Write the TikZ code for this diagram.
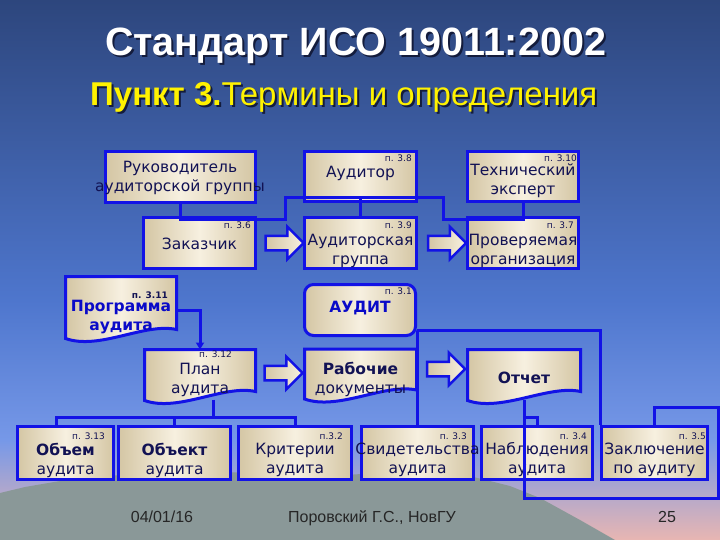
\documentclass[tikz,border=0pt]{standalone}
\usepackage{fontspec}
\setmainfont{Liberation Sans}
\newfontfamily\dvs{DejaVu Sans}
\usetikzlibrary{arrows.meta,shapes.arrows}

\definecolor{lnblue}{RGB}{18,18,230}
\definecolor{navy}{RGB}{18,18,84}
\definecolor{progblue}{RGB}{10,10,200}
\definecolor{beigeD}{RGB}{212,198,164}
\definecolor{beigeL}{RGB}{247,240,224}
\definecolor{bgA}{RGB}{45,70,125}
\definecolor{bgB}{RGB}{78,118,205}
\definecolor{bgC}{RGB}{118,152,232}
\definecolor{bgD}{RGB}{232,182,178}
\definecolor{mount}{RGB}{138,152,152}
\definecolor{shadow}{RGB}{20,28,60}

% document shape (wavy bottom) round an empty frame node
\newcommand{\docpath}[1]{%
  \path[docln] (#1.north west) -- (#1.north east) -- ([yshift=14pt]#1.south east)
    .. controls ([shift={(-32pt,21pt)}]#1.south east) and ([shift={(34pt,-7pt)}]#1.south west)
    .. ([yshift=5pt]#1.south west) -- cycle;}

\begin{document}
\begin{tikzpicture}[
    x=1pt,
    y=-1pt,
    box/.style 2 args={draw=lnblue, line width=3pt, left color=beigeD, right color=beigeD,
      middle color=beigeL, minimum width=#1, minimum height=#2, inner sep=0pt},
    docf/.style 2 args={minimum width=#1, minimum height=#2, inner sep=0pt, outer sep=0pt},
    docln/.style={draw=lnblue, line width=3pt, left color=beigeD, right color=beigeD, middle color=beigeL},
    txt/.style={font=\dvs\fontsize{15.5}{19}\selectfont, text=navy, align=center, inner sep=0pt},
    ptxt/.style={font=\dvs\bfseries\fontsize{15.5}{19}\selectfont, text=progblue, align=center, inner sep=0pt},
    pnum/.style={font=\dvs\fontsize{9}{10}\selectfont, text=navy, inner sep=0pt, anchor=east},
    conn/.style={lnblue, line width=3pt},
    barr/.style={single arrow, draw=lnblue, line width=2.5pt, left color=beigeD, right color=beigeL,
      inner sep=6pt, single arrow head extend=9pt, minimum height=38pt},
    foot/.style={text=black!85, font=\fontsize{16}{18}\selectfont, anchor=base}
]
\useasboundingbox (0,0) rectangle (720,540);

% slide background
\shade[top color=bgA, bottom color=bgB] (0,0) rectangle (720,300);
\shade[top color=bgB, bottom color=bgC] (0,300) rectangle (720,440);
\shade[top color=bgC, bottom color=bgD] (0,440) rectangle (720,540);
\fill[mount] (0,540) -- (0,493) -- (25,487) -- (60,481) -- (170,470) -- (330,476) -- (440,469)
  -- (490,481) -- (510,486) -- (540,498) -- (580,520) -- (615,540) -- cycle;

% titles
\node[text=shadow, font=\bfseries\fontsize{39.5}{44}\selectfont, anchor=base] (ttl-s) at (357.5,58) {Стандарт ИСО 19011:2002};
\node[text=white, font=\bfseries\fontsize{39.5}{44}\selectfont, anchor=base] (ttl) at (355.5,56) {Стандарт ИСО 19011:2002};
\node[text=shadow, font=\fontsize{33}{36}\selectfont, anchor=base west, inner sep=0pt] (sub-s) at (92,108) {{\bfseries Пункт 3.}Термины и определения};
\node[text=yellow, font=\fontsize{33}{36}\selectfont, anchor=base west, inner sep=0pt] (sub) at (90,106) {{\bfseries Пункт 3.}Термины и определения};

% frames
\node[box={150pt}{51pt}] (ruk) at (180.5,177) {};
\node[box={112pt}{50pt}] (aud) at (360.5,176.5) {};
\node[box={111pt}{50pt}] (tech) at (523,176.5) {};
\node[box={112pt}{51pt}] (zak) at (199.5,243) {};
\node[box={112pt}{51pt}] (grp) at (360.5,243) {};
\node[box={111pt}{51pt}] (org) at (523,243) {};
\node[box={111pt}{51pt}, rounded corners=9pt] (audit) at (360,310) {};
\node[box={96pt}{53pt}] (obm) at (65.5,453) {};
\node[box={112pt}{53pt}] (obk) at (174.5,453) {};
\node[box={113pt}{53pt}] (krit) at (295,453) {};
\node[box={112pt}{53pt}] (svid) at (417.5,453) {};
\node[box={111pt}{53pt}] (nabl) at (537,453) {};
\node[box={106pt}{53pt}] (zakl) at (654.5,453) {};

\node[docf={111pt}{67pt}] (prog) at (121,310) {};
\node[docf={111pt}{56pt}] (plan) at (200,377.5) {};
\node[docf={112pt}{55pt}] (rab) at (360.5,376.5) {};
\node[docf={113pt}{56pt}] (otch) at (524,377.5) {};
\docpath{prog}
\docpath{plan}
\docpath{rab}
\docpath{otch}

% texts
\node[txt] (ruk-t) at (180,178) {Руководитель\\аудиторской группы};
\node[txt] (aud-t) at (360.5,173) {Аудитор};
\node[txt] (tech-t) at (523,181) {Технический\\эксперт};
\node[txt] (zak-t) at (199.5,244) {Заказчик};
\node[txt] (grp-t) at (360.5,251) {Аудиторская\\группа};
\node[txt] (org-t) at (523,251) {Проверяемая\\организация};
\node[ptxt] (prog-t) at (121,317) {Программа\\аудита};
\node[ptxt] (audit-t) at (360,308) {АУДИТ};
\node[txt] (plan-t) at (200,380) {План\\аудита};
\node[txt] (rab-t) at (360.5,379) {{\bfseries Рабочие}\\документы};
\node[txt, font=\dvs\bfseries\fontsize{15.5}{19}\selectfont] (otch-t) at (524,378) {Отчет};
\node[txt] (obm-t) at (65.5,460) {{\bfseries Объем}\\аудита};
\node[txt] (obk-t) at (174.5,460) {{\bfseries Объект}\\аудита};
\node[txt] (krit-t) at (295,460) {Критерии\\аудита};
\node[txt] (svid-t) at (417.5,460) {Свидетельства\\аудита};
\node[txt] (nabl-t) at (537,460) {Наблюдения\\аудита};
\node[txt] (zakl-t) at (654.5,460) {Заключение\\по аудиту};

% clause numbers
\node[pnum] (n-aud) at (412,158) {п. 3.8};
\node[pnum] (n-tech) at (577,158) {п. 3.10};
\node[pnum] (n-zak) at (251,225) {п. 3.6};
\node[pnum] (n-grp) at (412,225) {п. 3.9};
\node[pnum] (n-org) at (574,225) {п. 3.7};
\node[pnum, font=\dvs\bfseries\fontsize{9}{10}\selectfont] (n-prog) at (168,295) {п. 3.11};
\node[pnum] (n-audit) at (412,291) {п. 3.1};
\node[pnum] (n-plan) at (232,354) {п. 3.12};
\node[pnum] (n-obm) at (105,436) {п. 3.13};
\node[pnum] (n-krit) at (343,436) {п.3.2};
\node[pnum] (n-svid) at (467,436) {п. 3.3};
\node[pnum] (n-nabl) at (587,436) {п. 3.4};
\node[pnum] (n-zakl) at (706,436) {п. 3.5};

% connectors
\coordinate (k1) at (285,220);
\coordinate (k2) at (285,198);
\coordinate (k3) at (443,198);
\coordinate (k4) at (443,220);
\draw[conn] (ruk.south) |- (k1) -- (k2) -- (k3) -- (k4) -| (tech.south);
\draw[conn] ([yshift=5pt]aud.south) -- (grp.north);

\draw[conn, -{Triangle[length=7pt,width=8pt]}] (prog.east) -| (plan.north);

\coordinate (pb) at (213,417);
\draw[conn] ([shift={(13pt,6pt)}]plan.south) -- (pb);
\draw[conn] ([xshift=-9pt]obm.north) |- (pb) -| (krit.north);
\draw[conn] (obk.north) -- (obk.north |- pb);

\draw[conn] ([yshift=7pt]audit.south east) -| (zakl.north west);
\draw[conn] ([yshift=7pt]audit.south east) -| (svid.north);

\coordinate (r1) at (718,498);
\coordinate (r2) at (718,407);
\coordinate (st) at (524,417);
\draw[conn] ([yshift=6pt]otch.south) |- (r1) -- (r2) -| (zakl.north);
\draw[conn] (st) -| (nabl.north);

% block arrows
\node[barr] (a1) at (281,243) {};
\node[barr] (a2) at (443.5,243) {};
\node[barr] (a3) at (280,373) {};
\node[barr] (a4) at (442.5,369) {};

% footer
\node[foot] (date) at (162,522) {04/01/16};
\node[foot] (auth) at (372,522) {Поровский Г.С., НовГУ};
\node[foot] (page) at (667,522) {25};
\end{tikzpicture}
\end{document}
